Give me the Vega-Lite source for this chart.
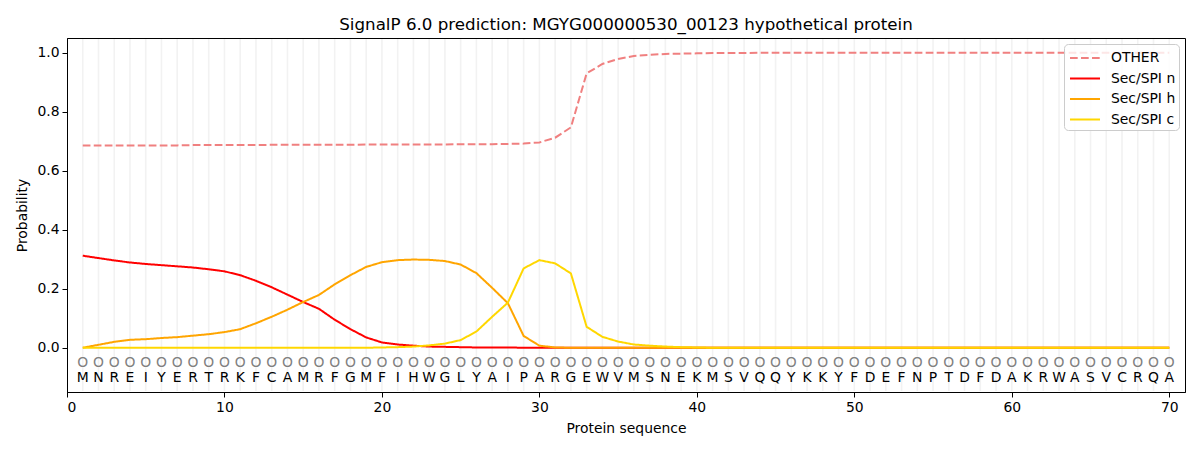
{
  "$schema": "https://vega.github.io/schema/vega-lite/v6.json",
  "width": 1118,
  "height": 354,
  "autosize": {"type": "none"},
  "padding": {"left": 67, "top": 38, "right": 15, "bottom": 58},
  "background": "white",
  "title": {
    "text": "SignalP 6.0 prediction: MGYG000000530_00123 hypothetical protein",
    "font": "DejaVu Sans",
    "fontSize": 16.7,
    "fontWeight": "normal",
    "color": "black",
    "anchor": "middle",
    "offset": 4
  },
  "config": {
    "view": {"stroke": "black", "strokeWidth": 1},
    "axis": {
      "grid": false,
      "domainColor": "black",
      "tickColor": "black",
      "tickSize": 5,
      "labelFont": "DejaVu Sans",
      "labelFontSize": 13.9,
      "labelColor": "black",
      "labelPadding": 3,
      "titleFont": "DejaVu Sans",
      "titleFontSize": 13.9,
      "titleFontWeight": "normal",
      "titleColor": "black"
    },
    "legend": {
      "orient": "top-right",
      "offset": 6,
      "fillColor": "rgba(255,255,255,0.8)",
      "strokeColor": "#cccccc",
      "cornerRadius": 4,
      "padding": 3,
      "symbolType": "M-1.5,0L1.5,0",
      "symbolSize": 400,
      "symbolOffset": 7,
      "symbolStrokeWidth": 2,
      "labelFont": "DejaVu Sans",
      "labelFontSize": 13.9,
      "labelColor": "black",
      "labelOffset": 15,
      "rowPadding": 2.5
    }
  },
  "data": {
    "values": [
      {"pos": 1, "aa": "M", "other": 0.686, "n": 0.312, "h": 0.000, "c": 0.000},
      {"pos": 2, "aa": "N", "other": 0.686, "n": 0.304, "h": 0.010, "c": 0.000},
      {"pos": 3, "aa": "R", "other": 0.686, "n": 0.296, "h": 0.020, "c": 0.000},
      {"pos": 4, "aa": "E", "other": 0.686, "n": 0.289, "h": 0.027, "c": 0.000},
      {"pos": 5, "aa": "I", "other": 0.686, "n": 0.284, "h": 0.029, "c": 0.000},
      {"pos": 6, "aa": "Y", "other": 0.686, "n": 0.280, "h": 0.033, "c": 0.000},
      {"pos": 7, "aa": "E", "other": 0.686, "n": 0.276, "h": 0.036, "c": 0.000},
      {"pos": 8, "aa": "R", "other": 0.687, "n": 0.272, "h": 0.041, "c": 0.000},
      {"pos": 9, "aa": "T", "other": 0.687, "n": 0.266, "h": 0.046, "c": 0.000},
      {"pos": 10, "aa": "R", "other": 0.687, "n": 0.259, "h": 0.053, "c": 0.000},
      {"pos": 11, "aa": "K", "other": 0.687, "n": 0.246, "h": 0.063, "c": 0.000},
      {"pos": 12, "aa": "F", "other": 0.687, "n": 0.227, "h": 0.083, "c": 0.000},
      {"pos": 13, "aa": "C", "other": 0.688, "n": 0.205, "h": 0.105, "c": 0.000},
      {"pos": 14, "aa": "A", "other": 0.688, "n": 0.180, "h": 0.129, "c": 0.000},
      {"pos": 15, "aa": "M", "other": 0.688, "n": 0.155, "h": 0.155, "c": 0.000},
      {"pos": 16, "aa": "R", "other": 0.688, "n": 0.132, "h": 0.179, "c": 0.000},
      {"pos": 17, "aa": "F", "other": 0.688, "n": 0.095, "h": 0.215, "c": 0.000},
      {"pos": 18, "aa": "G", "other": 0.688, "n": 0.063, "h": 0.246, "c": 0.000},
      {"pos": 19, "aa": "M", "other": 0.689, "n": 0.035, "h": 0.274, "c": 0.000},
      {"pos": 20, "aa": "F", "other": 0.689, "n": 0.018, "h": 0.290, "c": 0.001},
      {"pos": 21, "aa": "I", "other": 0.689, "n": 0.011, "h": 0.297, "c": 0.002},
      {"pos": 22, "aa": "H", "other": 0.689, "n": 0.007, "h": 0.299, "c": 0.004},
      {"pos": 23, "aa": "W", "other": 0.689, "n": 0.004, "h": 0.298, "c": 0.008},
      {"pos": 24, "aa": "G", "other": 0.689, "n": 0.003, "h": 0.294, "c": 0.014},
      {"pos": 25, "aa": "L", "other": 0.690, "n": 0.002, "h": 0.282, "c": 0.026},
      {"pos": 26, "aa": "Y", "other": 0.690, "n": 0.001, "h": 0.253, "c": 0.055},
      {"pos": 27, "aa": "A", "other": 0.690, "n": 0.001, "h": 0.203, "c": 0.105},
      {"pos": 28, "aa": "I", "other": 0.691, "n": 0.001, "h": 0.151, "c": 0.153},
      {"pos": 29, "aa": "P", "other": 0.692, "n": 0.000, "h": 0.040, "c": 0.269},
      {"pos": 30, "aa": "A", "other": 0.696, "n": 0.000, "h": 0.007, "c": 0.297},
      {"pos": 31, "aa": "R", "other": 0.712, "n": 0.000, "h": 0.001, "c": 0.286},
      {"pos": 32, "aa": "G", "other": 0.747, "n": 0.000, "h": 0.000, "c": 0.252},
      {"pos": 33, "aa": "E", "other": 0.930, "n": 0.000, "h": 0.000, "c": 0.071},
      {"pos": 34, "aa": "W", "other": 0.962, "n": 0.000, "h": 0.000, "c": 0.037},
      {"pos": 35, "aa": "V", "other": 0.979, "n": 0.000, "h": 0.000, "c": 0.021},
      {"pos": 36, "aa": "M", "other": 0.989, "n": 0.000, "h": 0.000, "c": 0.011},
      {"pos": 37, "aa": "S", "other": 0.993, "n": 0.000, "h": 0.000, "c": 0.007},
      {"pos": 38, "aa": "N", "other": 0.996, "n": 0.000, "h": 0.000, "c": 0.004},
      {"pos": 39, "aa": "E", "other": 0.997, "n": 0.000, "h": 0.000, "c": 0.002},
      {"pos": 40, "aa": "K", "other": 0.998, "n": 0.000, "h": 0.000, "c": 0.001},
      {"pos": 41, "aa": "M", "other": 0.999, "n": 0.000, "h": 0.000, "c": 0.000},
      {"pos": 42, "aa": "S", "other": 0.999, "n": 0.000, "h": 0.000, "c": 0.000},
      {"pos": 43, "aa": "V", "other": 0.999, "n": 0.000, "h": 0.000, "c": 0.000},
      {"pos": 44, "aa": "Q", "other": 1.000, "n": 0.000, "h": 0.000, "c": 0.000},
      {"pos": 45, "aa": "Q", "other": 1.000, "n": 0.000, "h": 0.000, "c": 0.000},
      {"pos": 46, "aa": "Y", "other": 1.000, "n": 0.000, "h": 0.000, "c": 0.000},
      {"pos": 47, "aa": "K", "other": 1.000, "n": 0.000, "h": 0.000, "c": 0.000},
      {"pos": 48, "aa": "K", "other": 1.000, "n": 0.000, "h": 0.000, "c": 0.000},
      {"pos": 49, "aa": "Y", "other": 1.000, "n": 0.000, "h": 0.000, "c": 0.000},
      {"pos": 50, "aa": "F", "other": 1.000, "n": 0.000, "h": 0.000, "c": 0.000},
      {"pos": 51, "aa": "D", "other": 1.000, "n": 0.000, "h": 0.000, "c": 0.000},
      {"pos": 52, "aa": "E", "other": 1.000, "n": 0.000, "h": 0.000, "c": 0.000},
      {"pos": 53, "aa": "F", "other": 1.000, "n": 0.000, "h": 0.000, "c": 0.000},
      {"pos": 54, "aa": "N", "other": 1.000, "n": 0.000, "h": 0.000, "c": 0.000},
      {"pos": 55, "aa": "P", "other": 1.000, "n": 0.000, "h": 0.000, "c": 0.000},
      {"pos": 56, "aa": "T", "other": 1.000, "n": 0.000, "h": 0.000, "c": 0.000},
      {"pos": 57, "aa": "D", "other": 1.000, "n": 0.000, "h": 0.000, "c": 0.000},
      {"pos": 58, "aa": "F", "other": 1.000, "n": 0.000, "h": 0.000, "c": 0.000},
      {"pos": 59, "aa": "D", "other": 1.000, "n": 0.000, "h": 0.000, "c": 0.000},
      {"pos": 60, "aa": "A", "other": 1.000, "n": 0.000, "h": 0.000, "c": 0.000},
      {"pos": 61, "aa": "K", "other": 1.000, "n": 0.000, "h": 0.000, "c": 0.000},
      {"pos": 62, "aa": "R", "other": 1.000, "n": 0.000, "h": 0.000, "c": 0.000},
      {"pos": 63, "aa": "W", "other": 1.000, "n": 0.000, "h": 0.000, "c": 0.000},
      {"pos": 64, "aa": "A", "other": 1.000, "n": 0.000, "h": 0.000, "c": 0.000},
      {"pos": 65, "aa": "S", "other": 1.000, "n": 0.000, "h": 0.000, "c": 0.000},
      {"pos": 66, "aa": "V", "other": 1.000, "n": 0.000, "h": 0.000, "c": 0.000},
      {"pos": 67, "aa": "C", "other": 1.000, "n": 0.000, "h": 0.000, "c": 0.000},
      {"pos": 68, "aa": "R", "other": 1.000, "n": 0.000, "h": 0.000, "c": 0.000},
      {"pos": 69, "aa": "Q", "other": 1.000, "n": 0.000, "h": 0.000, "c": 0.000},
      {"pos": 70, "aa": "A", "other": 1.000, "n": 0.000, "h": 0.000, "c": 0.000}
    ]
  },
  "encoding": {
    "x": {
      "field": "pos",
      "type": "quantitative",
      "scale": {"domain": [0, 71], "nice": false, "zero": false},
      "axis": {"values": [0, 10, 20, 30, 40, 50, 60, 70], "title": "Protein sequence", "titlePadding": 8}
    }
  },
  "layer": [
    {
      "mark": {"type": "rule", "color": "#f2f2f2", "strokeWidth": 1.6},
      "encoding": {
        "y": {"datum": -0.1465, "type": "quantitative"},
        "y2": {"datum": 1.0465}
      }
    },
    {
      "transform": [{"fold": ["other", "n", "h", "c"], "as": ["series", "prob"]}],
      "mark": {"type": "line", "strokeWidth": 2},
      "encoding": {
        "y": {
          "field": "prob",
          "type": "quantitative",
          "scale": {"domain": [-0.15, 1.05], "nice": false, "zero": false},
          "axis": {"values": [0, 0.2, 0.4, 0.6, 0.8, 1.0], "format": ".1f", "title": "Probability", "titlePadding": 7}
        },
        "color": {
          "field": "series",
          "type": "nominal",
          "scale": {"domain": ["other", "n", "h", "c"], "range": ["#f08080", "#ff0000", "#ffa500", "#ffd700"]},
          "legend": {
            "title": null,
            "labelExpr": "{'other': 'OTHER', 'n': 'Sec/SPI n', 'h': 'Sec/SPI h', 'c': 'Sec/SPI c'}[datum.label]"
          }
        },
        "strokeDash": {
          "field": "series",
          "type": "nominal",
          "scale": {"domain": ["other", "n", "h", "c"], "range": [[7.7, 3.3], [1, 0], [1, 0], [1, 0]]},
          "legend": {
            "title": null,
            "labelExpr": "{'other': 'OTHER', 'n': 'Sec/SPI n', 'h': 'Sec/SPI h', 'c': 'Sec/SPI c'}[datum.label]"
          }
        }
      }
    },
    {
      "mark": {"type": "text", "text": "O", "font": "DejaVu Sans", "fontSize": 13.9, "color": "#808080", "baseline": "middle", "align": "center"},
      "encoding": {
        "y": {"datum": -0.05, "type": "quantitative"}
      }
    },
    {
      "mark": {"type": "text", "font": "DejaVu Sans", "fontSize": 13.9, "color": "black", "baseline": "middle", "align": "center"},
      "encoding": {
        "y": {"datum": -0.102, "type": "quantitative"},
        "text": {"field": "aa", "type": "nominal"}
      }
    }
  ]
}
